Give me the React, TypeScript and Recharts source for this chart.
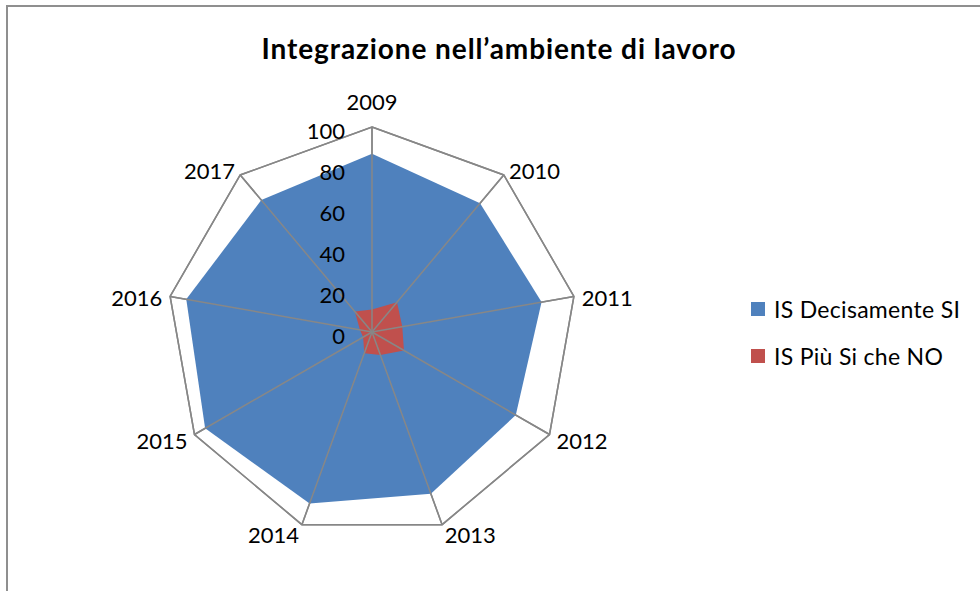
import React from "react";
import {
  RadarChart, Radar, PolarGrid, PolarAngleAxis, PolarRadiusAxis, Legend,
} from "recharts";

const years = ["2009", "2010", "2011", "2012", "2013", "2014", "2015", "2016", "2017"];
const decisamenteSi = [87, 82, 84, 81, 84, 89, 94, 92, 84];
const piuSiCheNo = [11, 19, 15, 18, 12, 11, 5, 6, 13];
const radiusTicks = [0, 20, 40, 60, 80, 100];

const data = years.map((y, i) => ({
  year: y,
  si: decisamenteSi[i],
  piu: piuSiCheNo[i],
}));

const CX = 372;
const CY = 332;
const R = 205;
const FONT = "Lato, 'Open Sans', sans-serif";
const GRID = "#878787";

const AngleTick = (props: any) => {
  const { payload } = props;
  const a = (payload.coordinate * Math.PI) / 180;
  const cos = Math.cos(a);
  const sin = Math.sin(a);
  const vx = CX + R * cos;
  const vy = CY - R * sin;
  let anchor: "start" | "middle" | "end" = "middle";
  if (cos > 0.1) anchor = "start";
  else if (cos < -0.1) anchor = "end";
  const top = Math.abs(cos) <= 0.1;
  const x = vx + 8 * cos;
  const y = top ? vy - 26 : vy - 8 * sin + 2;
  return (
    <text x={x} y={y} textAnchor={anchor} dominantBaseline="central"
      fill="#000" fontSize={22} fontFamily={FONT}>
      {payload.value}
    </text>
  );
};

const RadiusTick = (props: any) => {
  const { x, y, payload } = props;
  return (
    <text x={x - 27} y={y + 3} textAnchor="end" dominantBaseline="central"
      fill="#000" fontSize={22} fontFamily={FONT}>
      {payload.value}
    </text>
  );
};

// last series: draws its polygon, then the spokes and outer ring on top of all fills
const TopShape = (props: any) => {
  const { points = [], fill } = props;
  const poly = points.map((p: any) => `${p.x},${p.y}`).join(" ");
  const outer = points.map((p: any) => {
    const a = (-p.angle * Math.PI) / 180;
    return { x: p.cx + R * Math.cos(a), y: p.cy + R * Math.sin(a), cx: p.cx, cy: p.cy };
  });
  return (
    <g>
      <polygon points={poly} fill={fill} stroke="none" />
      {outer.map((o: any, i: number) => (
        <line key={i} x1={o.cx} y1={o.cy} x2={o.x} y2={o.y} stroke={GRID} strokeWidth={1.5} />
      ))}
      <polygon points={outer.map((o: any) => `${o.x},${o.y}`).join(" ")} fill="none"
        stroke={GRID} strokeWidth={1.5} />
    </g>
  );
};

const LegendContent = (props: any) => {
  const { payload } = props;
  return (
    <div>
      {(payload || []).map((p: any, i: number) => (
        <div key={i} style={{ display: "flex", alignItems: "center", height: 24, marginBottom: 23 }}>
          <span style={{ width: 14, height: 14, background: p.color, display: "inline-block", marginRight: 9 }} />
          <span style={{ fontFamily: FONT, fontSize: 23, letterSpacing: 0.3, color: "#000", whiteSpace: "nowrap" }}>{p.value}</span>
        </div>
      ))}
    </div>
  );
};

export default function App() {
  return (
    <div style={{ position: "absolute", left: 0, top: 0, width: 980, height: 591, background: "#fff", overflow: "hidden" }}>
      <div style={{
        position: "absolute", left: 6, top: 5, width: 990, height: 600,
        border: "2px solid #8f8f8f", boxSizing: "border-box",
      }} />
      <div style={{
        position: "absolute", left: 0, top: 31, width: 998, textAlign: "center",
        fontFamily: FONT, fontWeight: "bold", fontSize: 28, letterSpacing: 0.9, color: "#000",
      }}>
        Integrazione nell’ambiente di lavoro
      </div>
      <div style={{ position: "absolute", left: 0, top: 0 }}>
        <RadarChart width={980} height={591} data={data} cx={CX} cy={CY} outerRadius={R}
          startAngle={90} endAngle={-270}>
          <PolarGrid gridType="polygon" polarRadius={[R]} stroke={GRID} strokeWidth={1.5} />
          <Radar name="IS Decisamente SI" dataKey="si" fill="#4f81bd" fillOpacity={1}
            stroke="none" isAnimationActive={false} />
          <Radar name="IS Più Si che NO" dataKey="piu" fill="#c0504d" fillOpacity={1}
            stroke="none" isAnimationActive={false} shape={<TopShape />} />
          <PolarAngleAxis dataKey="year" tick={<AngleTick />} tickLine={false} axisLine={false} />
          <PolarRadiusAxis angle={90} domain={[0, 100]} ticks={radiusTicks as any}
            tick={<RadiusTick />} axisLine={false} tickLine={false} />
          <Legend content={<LegendContent />} layout="vertical"
            wrapperStyle={{ left: 751, top: 297, width: 230 }} />
        </RadarChart>
      </div>
    </div>
  );
}
